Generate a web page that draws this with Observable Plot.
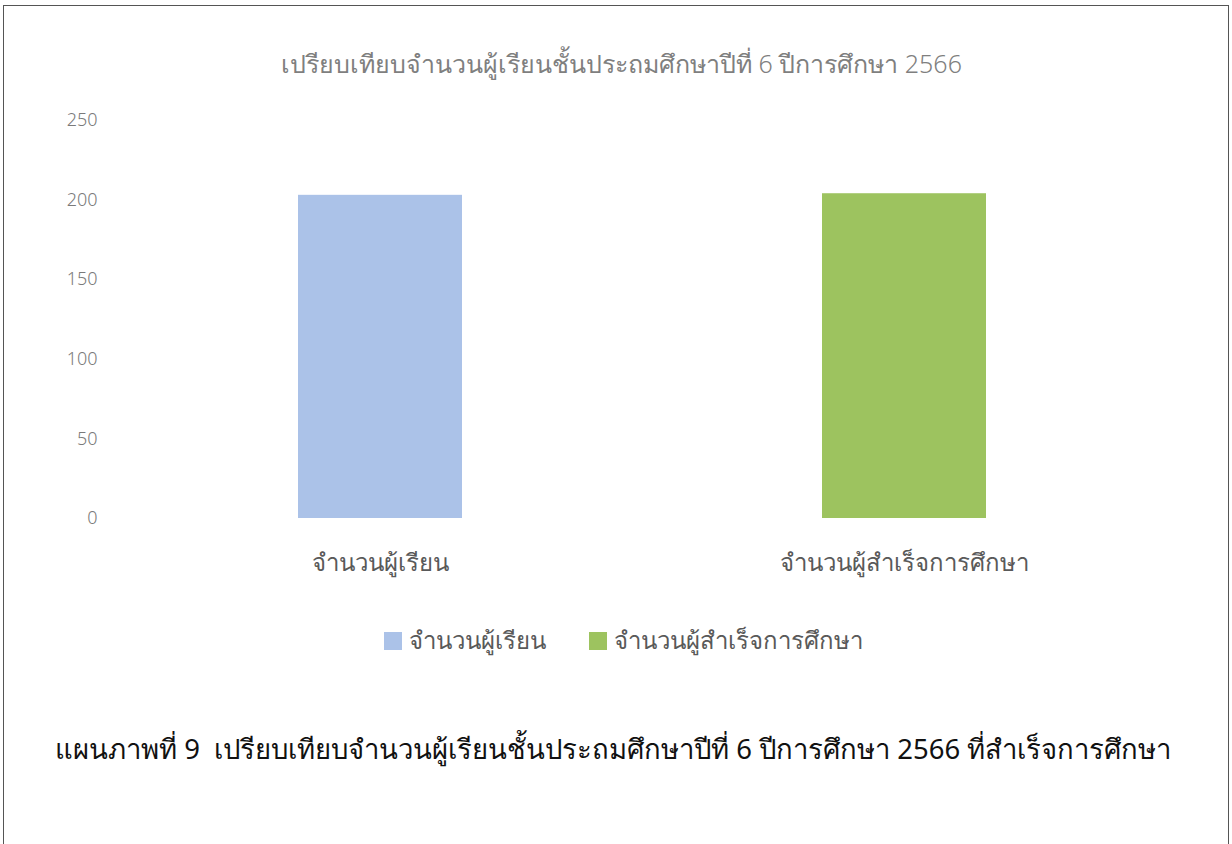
<!DOCTYPE html>
<html>
<head>
<meta charset="utf-8">
<script src="https://cdn.jsdelivr.net/npm/d3@7"></script>
<script src="https://cdn.jsdelivr.net/npm/@observablehq/plot@0.6"></script>
<style>
  html, body { margin: 0; padding: 0; background: #fff; }
  body { width: 1232px; height: 844px; position: relative; overflow: hidden; font-family: "Noto Sans", "DejaVu Sans", sans-serif; }
  #frame { position: absolute; left: 3px; top: 5px; width: 1224px; height: 860px; border: 1.5px solid #555; border-bottom: none; }
  #title { position: absolute; top: 44px; left: 0; width: 1243px; text-align: center; font-size: 25px; font-weight: 300; color: #7f7f7f; }
  #chart { position: absolute; top: 100px; left: 0; }
  #legend { position: absolute; top: 621px; left: 0; width: 1247px; display: flex; justify-content: center; gap: 43px; font-size: 24px; font-weight: 300; color: #595959; }
  .item { display: flex; align-items: center; gap: 7px; }
  .sw { width: 18px; height: 18px; display: inline-block; }
  #caption { position: absolute; top: 727px; left: 55px; font-size: 27.5px; color: #111; white-space: pre; }
</style>
</head>
<body>
<div id="frame"></div>
<div id="title"></div>
<div id="chart"></div>
<div id="legend"></div>
<div id="caption"></div>
<script>
const titleText = "เปรียบเทียบจำนวนผู้เรียนชั้นประถมศึกษาปีที่ 6 ปีการศึกษา 2566";
const captionText = "แผนภาพที่ 9  เปรียบเทียบจำนวนผู้เรียนชั้นประถมศึกษาปีที่ 6 ปีการศึกษา 2566 ที่สำเร็จการศึกษา";
const categories = ["จำนวนผู้เรียน", "จำนวนผู้สำเร็จการศึกษา"];
const values = [203, 204];
const colors = ["#abc2e8", "#9dc35f"];
const yTicks = [0, 50, 100, 150, 200, 250];

const data = categories.map((c, i) => ({category: c, value: values[i]}));

document.getElementById("title").textContent = titleText;
document.getElementById("caption").textContent = captionText;

const chart = Plot.plot({
  width: 1232,
  height: 490,
  marginLeft: 118,
  marginRight: 66,
  marginTop: 20,
  marginBottom: 72,
  style: { fontFamily: '"Noto Sans", "DejaVu Sans", sans-serif', fontWeight: 300, background: "transparent", overflow: "visible" },
  x: { domain: categories, paddingInner: 0.687, paddingOuter: 0.3435, label: null, tickSize: 0, tickPadding: 34 },
  y: { domain: [0, 250], ticks: yTicks, label: null, tickSize: 0, tickPadding: 21 },
  color: { domain: categories, range: colors },
  marks: [
    Plot.barY(data, { x: "category", y: "value", fill: "category" }),
    Plot.axisY({ ticks: yTicks, tickSize: 0, tickPadding: 21, fontSize: 18, color: "#7a7a7a", label: null }),
    Plot.axisX({ tickSize: 0, tickPadding: 35, fontSize: 24, color: "#595959", label: null })
  ]
});
document.getElementById("chart").appendChild(chart);

const legend = document.getElementById("legend");
categories.forEach((c, i) => {
  const item = document.createElement("div");
  item.className = "item";
  const sw = document.createElement("span");
  sw.className = "sw";
  sw.style.background = colors[i];
  const t = document.createElement("span");
  t.textContent = c;
  item.appendChild(sw);
  item.appendChild(t);
  legend.appendChild(item);
});
</script>
</body>
</html>
